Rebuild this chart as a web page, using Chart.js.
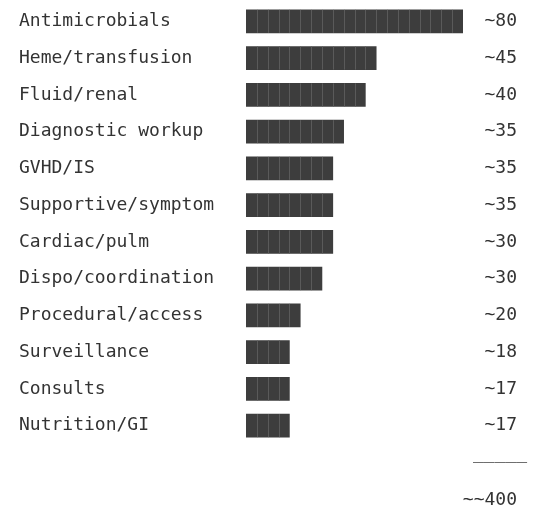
<!DOCTYPE html>
<html>
<head>
<meta charset="utf-8">
<script src="https://cdn.jsdelivr.net/npm/chart.js@4"></script>
<style>
  body { margin: 0; background: #fff; }
  #wrap { width: 543px; height: 524px; }
</style>
</head>
<body>
<div id="wrap"><canvas id="chart"></canvas></div>
<script>
const categories = ['Antimicrobials', 'Heme/transfusion', 'Fluid/renal', 'Diagnostic workup', 'GVHD/IS',
  'Supportive/symptom', 'Cardiac/pulm', 'Dispo/coordination', 'Procedural/access', 'Surveillance',
  'Consults', 'Nutrition/GI'];
// bar length in blocks, as drawn
const blocks = [20, 12, 11, 9, 8, 8, 8, 7, 5, 4, 4, 4];
const valueLabels = ['~80', '~45', '~40', '~35', '~35', '~35', '~30', '~30', '~20', '~18', '~17', '~17'];
const totalRule = '_____';
const totalLabel = '~~400';

const FONT = '"DejaVu Sans Mono", "Liberation Mono", monospace';
const TEXT = '#333333';

// thin separators between the blocks + the value column and total
const textBars = {
  id: 'textBars',
  afterDatasetsDraw(chart) {
    const ctx = chart.ctx;
    const xs = chart.scales.x;
    const meta = chart.getDatasetMeta(0);
    ctx.save();
    ctx.strokeStyle = '#5a5a5a';
    ctx.lineWidth = 1;
    meta.data.forEach((bar, i) => {
      const { y, height } = bar.getProps(['y', 'height'], true);
      for (let k = 1; k < blocks[i]; k++) {
        const px = Math.round(xs.getPixelForValue(k)) + 0.5;
        ctx.beginPath();
        ctx.moveTo(px, y - height / 2);
        ctx.lineTo(px, y + height / 2);
        ctx.stroke();
      }
    });
    ctx.fillStyle = TEXT;
    ctx.font = '18px ' + FONT;
    ctx.textAlign = 'right';
    ctx.textBaseline = 'middle';
    meta.data.forEach((bar, i) => {
      ctx.fillText(valueLabels[i], 517, bar.y);
    });
    ctx.textAlign = 'left';
    ctx.textBaseline = 'alphabetic';
    ctx.fillText(totalRule, 473, 459);
    ctx.textAlign = 'right';
    ctx.textBaseline = 'middle';
    ctx.fillText(totalLabel, 517, 500);
    ctx.restore();
  }
};

new Chart(document.getElementById('chart'), {
  type: 'bar',
  data: {
    labels: categories,
    datasets: [{
      data: blocks,
      backgroundColor: '#3d3d3d',
      borderWidth: 0,
      barThickness: 23
    }]
  },
  options: {
    indexAxis: 'y',
    responsive: true,
    maintainAspectRatio: false,
    animation: false,
    layout: { padding: { left: 19, right: 80, top: 3, bottom: 80 } },
    plugins: { legend: { display: false }, tooltip: { enabled: false } },
    scales: {
      x: { display: false, min: 0, max: 20 },
      y: {
        grid: { display: false },
        border: { display: false },
        afterFit(scale) {
          scale.width = 227;
          scale.paddingTop = 0;
          scale.paddingBottom = 0;
        },
        ticks: {
          crossAlign: 'far',
          color: TEXT,
          font: { family: FONT, size: 18 }
        }
      }
    }
  },
  plugins: [textBars]
});
</script>
</body>
</html>
